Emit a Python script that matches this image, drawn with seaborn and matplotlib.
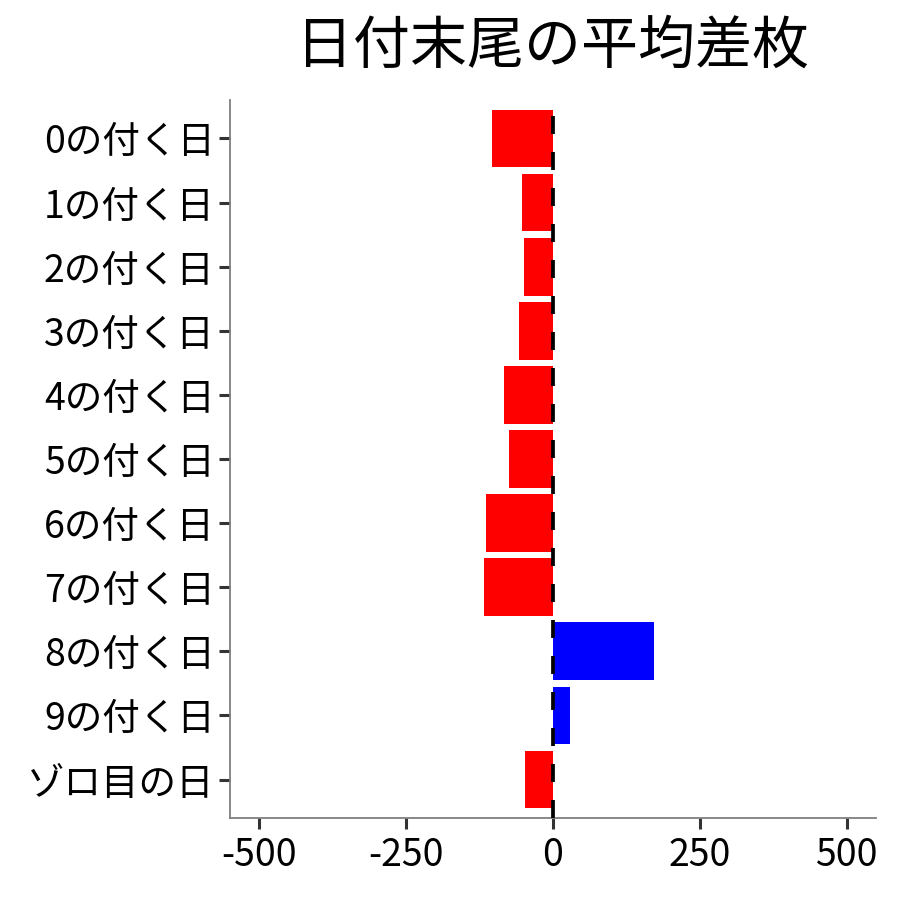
import matplotlib
matplotlib.use("Agg")
import matplotlib.pyplot as plt
import seaborn as sns
import pandas as pd

labels = ["0の付く日", "1の付く日", "2の付く日", "3の付く日", "4の付く日",
          "5の付く日", "6の付く日", "7の付く日", "8の付く日", "9の付く日", "ゾロ目の日"]
values = [-104.6, -53.6, -50.2, -58.7, -84.2, -75.7, -114.8, -118.2, 172.6, 29.3, -48.5]
title = "日付末尾の平均差枚"
xticks = [-500, -250, 0, 250, 500]

sns.set_theme(style="white")
plt.rcParams['font.family'] = ['Noto Sans CJK JP', 'DejaVu Sans']

df = pd.DataFrame({"label": labels, "value": values})
df["sign"] = ["pos" if v > 0 else "neg" for v in values]

fig = plt.figure(figsize=(9, 9), dpi=100)
ax = fig.add_axes([0.2556, 0.0911, 0.9733 - 0.2556, 0.8889 - 0.0911])

sns.barplot(data=df, x="value", y="label", hue="sign", order=labels,
            palette={"neg": "#FF0000", "pos": "#0000FF"}, dodge=False,
            width=0.9, legend=False, ax=ax, saturation=1, linewidth=0)

ax.axvline(0, color="black", lw=2.7, ls=(0, (4.8, 4.8)), zorder=5)

ax.set_xlim(-550, 550)
ax.set_ylim(len(labels) - 0.4, -0.6)
ax.set_xticks(xticks)
ax.set_xticklabels([str(t) for t in xticks])
ax.set_xlabel("")
ax.set_ylabel("")

for s in ["top", "right"]:
    ax.spines[s].set_visible(False)
for s in ["left", "bottom"]:
    ax.spines[s].set_color("#7f7f7f")
    ax.spines[s].set_linewidth(1.3)

ax.tick_params(axis="both", which="major", bottom=True, left=True, length=8,
               width=2.2, color="#333333", labelsize=27, labelcolor="black", pad=3)
ax.tick_params(axis="x", pad=5)

fig.text(0.6144, 0.948, title, ha="center", va="center", fontsize=41, color="black")

fig.savefig("out.png", dpi=100)
